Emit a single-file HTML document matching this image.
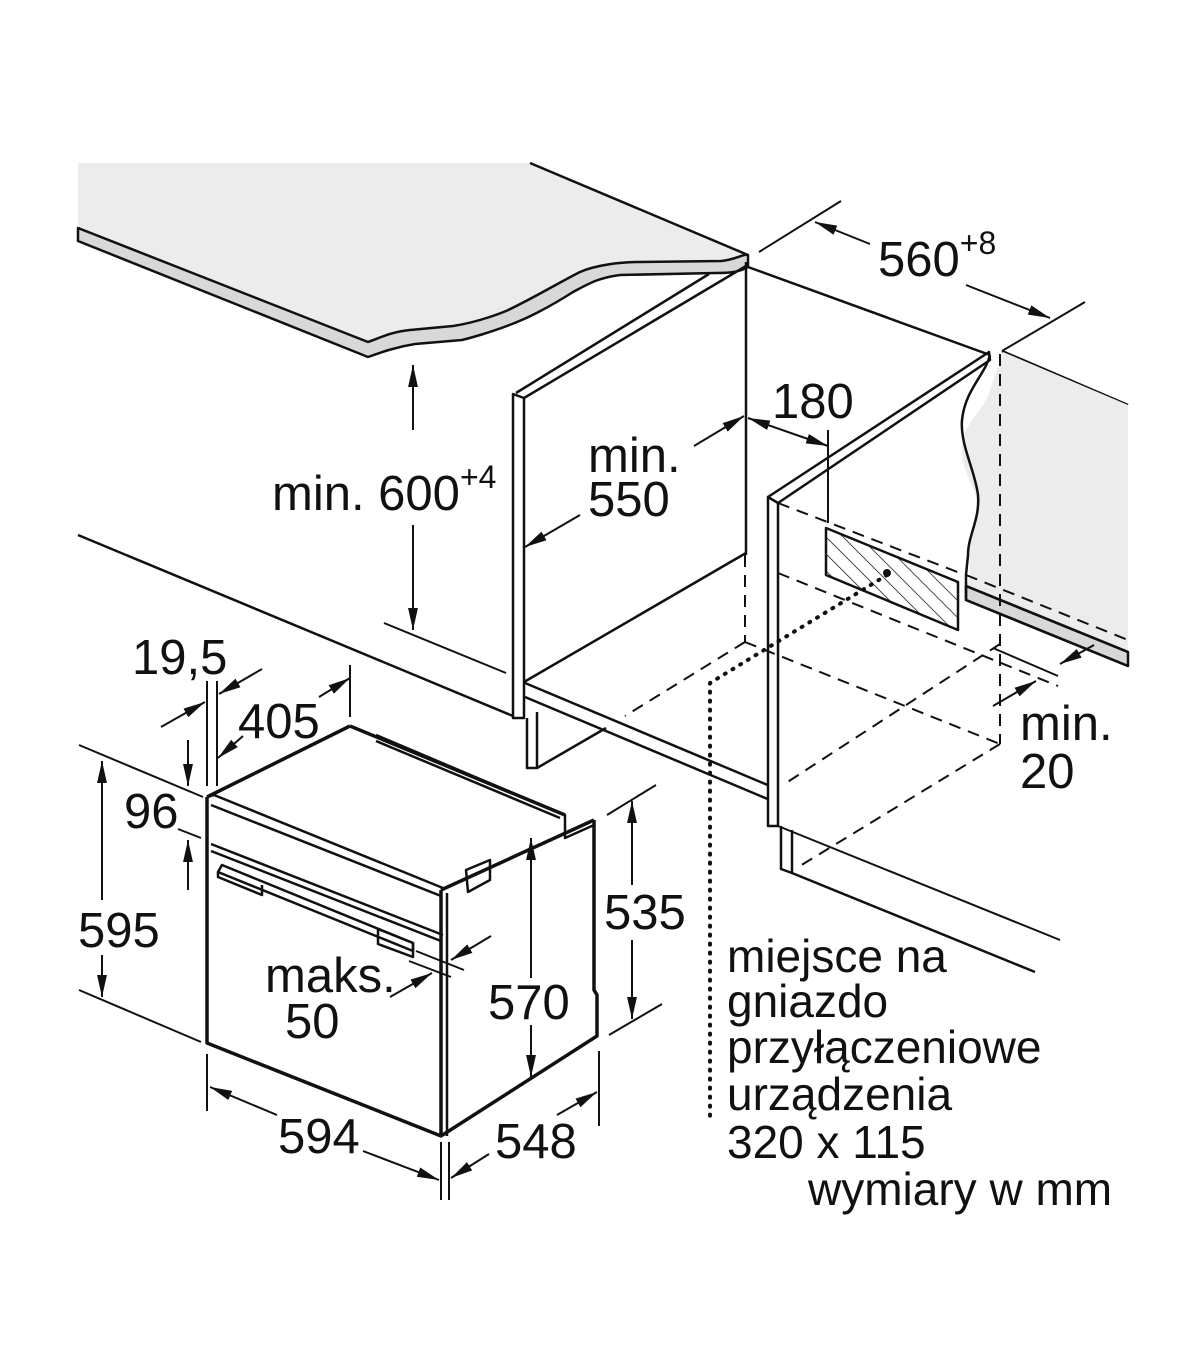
<!DOCTYPE html>
<html><head><meta charset="utf-8"><style>
html,body{margin:0;padding:0;background:#fff;}
svg{display:block;}
text{font-family:"Liberation Sans",Arial,sans-serif;fill:#111;}
</style></head><body>
<svg width="1200" height="1372" viewBox="0 0 1200 1372" xmlns="http://www.w3.org/2000/svg">
<defs>
<marker id="b" viewBox="0 0 20 10" refX="20" refY="5" markerWidth="22" markerHeight="11" orient="auto-start-reverse" markerUnits="userSpaceOnUse"><path d="M0,0.5 L20,5 L0,9.5 z" fill="#111"/></marker>
<pattern id="h" width="12" height="12" patternUnits="userSpaceOnUse" patternTransform="rotate(-45)"><line x1="0" y1="0" x2="0" y2="12" stroke="#111" stroke-width="1.5"/></pattern>
</defs>
<g stroke="#111" stroke-width="2.5" fill="none" stroke-linejoin="round">
<path d="M78,163 L530,163 L748,255 L745,253 C735,262 721,261 721,261 L620,262 C596,265 580,275 560,285 C530,305 506,311 506,311 C480,322 453,326 453,326 L410,330 C390,332 380,338 368,342 L78,228 Z" fill="#ececec" stroke="none"/>
<path d="M78,228 L368,342 C380,338 390,332 410,330 L453,326 C480,322 506,311 506,311 C530,300 560,282 580,272 C596,265 620,262 640,262 L721,261 C735,260 745,253 748,255 L748,267 C740,272 730,273 716,273 L620,275 C598,278 590,283 573,292 C545,310 524,319 524,319 C495,332 462,340 462,340 L415,344 C396,347 382,352 368,357 L78,241 Z" fill="#d8d8d8"/>
<line x1="530" y1="163" x2="748" y2="255"/>
<line x1="746" y1="262" x2="746" y2="555"/>
<line x1="709" y1="274" x2="516" y2="393"/>
<line x1="746" y1="266" x2="524" y2="398"/>
<path d="M513,394 L513,718 L524,718 L524,398 Z" fill="#fff"/>
<line x1="524" y1="682" x2="746" y2="553"/>
<line x1="525" y1="683" x2="770" y2="786"/>
<line x1="525" y1="697" x2="770" y2="800"/>
<path d="M527,718 L527,768 L537,768 L537,712" />
<line x1="537" y1="768" x2="606" y2="728"/>
<line x1="78" y1="535" x2="513" y2="716"/>
<line x1="384" y1="623" x2="506" y2="673" stroke-width="2"/>
<line x1="748" y1="267" x2="990" y2="355"/>
<line x1="1002" y1="351" x2="1128" y2="405"/>
<path d="M1003,352 L1128,405 L1128,652 L966,586 C975,570 966,560 968,545 C970,530 980,520 978,505 C975,485 960,470 962,445 C965,420 985,410 990,390 Z" fill="#ececec" stroke="none"/>
<path d="M966,586 L1128,652 L1128,666 L966,600 Z" fill="#d8d8d8"/>
<path d="M990,355 C985,375 965,390 962,420 C960,445 975,470 978,495 C980,520 968,535 968,555 L966,575 L966,600 L1128,666"/>
<line x1="966" y1="586" x2="1128" y2="652"/>
<path d="M768,497 L989,352 L990,360 L778,503" />
<path d="M768,497 L768,826 L778,826 L778,503 Z" fill="#fff"/>
<path d="M781,826 L781,869 L792,873 L792,830"/>
<line x1="792" y1="873" x2="1035" y2="972"/>
<line x1="778" y1="826" x2="1060" y2="940" stroke-width="2"/>
<path d="M826,528 L958,582 L958,630 L826,575 Z" fill="url(#h)"/>
<circle cx="887" cy="573" r="4" fill="#111" stroke="none"/>
<line x1="828" y1="430" x2="828" y2="523" stroke-width="2"/>
<g stroke-dasharray="12,8" stroke-width="2">
<line x1="745" y1="555" x2="745" y2="642"/>
<line x1="1000" y1="354" x2="1000" y2="744"/>
<line x1="778" y1="503" x2="960" y2="573"/>
<line x1="745" y1="642" x2="625" y2="716"/>
<line x1="745" y1="642" x2="1000" y2="744"/>
<line x1="1000" y1="644" x2="786" y2="783"/>
<line x1="1000" y1="744" x2="795" y2="869"/>
<line x1="778" y1="573" x2="1058" y2="686"/>
<line x1="966" y1="575" x2="1128" y2="640"/>
</g>
<line x1="993" y1="648" x2="1058" y2="676" stroke-width="2"/>
<path d="M887,575 L710,683 L710,1122" stroke-dasharray="1,8" stroke-width="4" stroke-linecap="round"/>
<line x1="759" y1="252" x2="841" y2="201" stroke-width="2"/>
<line x1="1002" y1="351" x2="1085" y2="302" stroke-width="2"/>
<line x1="870" y1="244" x2="815" y2="222" stroke-width="2" marker-end="url(#b)"/>
<line x1="966" y1="285" x2="1050" y2="318" stroke-width="2" marker-end="url(#b)"/>
<line x1="748" y1="418" x2="828" y2="446" stroke-width="2" marker-start="url(#b)" marker-end="url(#b)"/>
<line x1="694" y1="446" x2="744" y2="416" stroke-width="2" marker-end="url(#b)"/>
<line x1="580" y1="515" x2="525" y2="547" stroke-width="2" marker-end="url(#b)"/>
<line x1="413" y1="430" x2="413" y2="365" stroke-width="2" marker-end="url(#b)"/>
<line x1="413" y1="525" x2="413" y2="630" stroke-width="2" marker-end="url(#b)"/>
<line x1="1094" y1="645" x2="1060" y2="664" stroke-width="2" marker-end="url(#b)"/>
<line x1="993" y1="706" x2="1036" y2="681" stroke-width="2" marker-end="url(#b)"/>
<g stroke-width="3.5">
<path d="M207,797 L207,1043 L441,1136 L597,1036 L597,995 L594,990 L594,820"/>
<line x1="207" y1="797" x2="350" y2="726"/>
<line x1="350" y1="726" x2="565" y2="815"/>
<line x1="441" y1="890" x2="441" y2="1136"/>
<line x1="441" y1="890" x2="594" y2="820"/>
</g>
<path d="M207,797 L214,795 L443,888" stroke-width="2.5"/>
<line x1="211" y1="805" x2="441" y2="896"/>
<line x1="211" y1="844" x2="443" y2="935"/>
<line x1="211" y1="851" x2="441" y2="941"/>
<path d="M376,735 L565,815 L565,838 L594,825"/>
<line x1="376" y1="741" x2="560" y2="818"/>
<line x1="447" y1="893" x2="447" y2="1136"/>
<path d="M218,872 L413,951 L413,943 L222,865 Z"/>
<path d="M218,872 L218,877 L262,895 L262,885"/>
<path d="M378,929 L413,943 L413,957 L378,944 Z"/>
<path d="M466,870 L490,860 L490,880 L468,892 Z"/>
<line x1="79" y1="745" x2="203" y2="797" stroke-width="2"/>
<line x1="79" y1="990" x2="201" y2="1042" stroke-width="2"/>
<line x1="102" y1="900" x2="102" y2="761" stroke-width="2" marker-end="url(#b)"/>
<line x1="102" y1="955" x2="102" y2="997" stroke-width="2" marker-end="url(#b)"/>
<line x1="178" y1="829" x2="201" y2="838" stroke-width="2"/>
<line x1="188" y1="740" x2="188" y2="786" stroke-width="2" marker-end="url(#b)"/>
<line x1="188" y1="890" x2="188" y2="840" stroke-width="2" marker-end="url(#b)"/>
<line x1="207" y1="681" x2="207" y2="786" stroke-width="2"/>
<line x1="217" y1="681" x2="217" y2="786" stroke-width="2"/>
<line x1="161" y1="727" x2="205" y2="702" stroke-width="2" marker-end="url(#b)"/>
<line x1="262" y1="669" x2="219" y2="694" stroke-width="2" marker-end="url(#b)"/>
<line x1="350" y1="665" x2="350" y2="717" stroke-width="2"/>
<line x1="319" y1="697" x2="350" y2="678" stroke-width="2" marker-end="url(#b)"/>
<line x1="243" y1="736" x2="218" y2="758" stroke-width="2" marker-end="url(#b)"/>
<line x1="416" y1="951" x2="464" y2="970" stroke-width="2"/>
<line x1="409" y1="961" x2="451" y2="977" stroke-width="2"/>
<line x1="491" y1="936" x2="451" y2="960" stroke-width="2" marker-end="url(#b)"/>
<line x1="390" y1="997" x2="432" y2="973" stroke-width="2" marker-end="url(#b)"/>
<line x1="531" y1="978" x2="531" y2="838" stroke-width="2" marker-end="url(#b)"/>
<line x1="531" y1="1025" x2="531" y2="1077" stroke-width="2" marker-end="url(#b)"/>
<line x1="607" y1="815" x2="656" y2="785" stroke-width="2"/>
<line x1="609" y1="1035" x2="662" y2="1004" stroke-width="2"/>
<line x1="632" y1="885" x2="632" y2="801" stroke-width="2" marker-end="url(#b)"/>
<line x1="632" y1="940" x2="632" y2="1019" stroke-width="2" marker-end="url(#b)"/>
<line x1="207" y1="1054" x2="207" y2="1111" stroke-width="2"/>
<line x1="441" y1="1142" x2="441" y2="1200" stroke-width="2"/>
<line x1="449" y1="1142" x2="449" y2="1200" stroke-width="2"/>
<line x1="599" y1="1051" x2="599" y2="1126" stroke-width="2"/>
<line x1="277" y1="1115" x2="210" y2="1087" stroke-width="2" marker-end="url(#b)"/>
<line x1="363" y1="1151" x2="439" y2="1180" stroke-width="2" marker-end="url(#b)"/>
<line x1="489" y1="1154" x2="451" y2="1178" stroke-width="2" marker-end="url(#b)"/>
<line x1="557" y1="1115" x2="597" y2="1092" stroke-width="2" marker-end="url(#b)"/>
</g>
<g font-size="49">
<text x="272" y="510">min. 600<tspan font-size="32" dy="-22">+4</tspan></text>
<text x="588" y="472">min.</text>
<text x="588" y="516">550</text>
<text x="772" y="418">180</text>
<text x="878" y="276">560<tspan font-size="32" dy="-22">+8</tspan></text>
<text x="1020" y="740">min.</text>
<text x="1020" y="788">20</text>
<text x="132" y="674">19,5</text>
<text x="238" y="738">405</text>
<text x="124" y="828">96</text>
<text x="78" y="947">595</text>
<text x="265" y="992">maks.</text>
<text x="285" y="1038">50</text>
<text x="488" y="1019">570</text>
<text x="604" y="929">535</text>
<text x="278" y="1153">594</text>
<text x="495" y="1158">548</text>
</g>
<g font-size="46">
<text x="727" y="972">miejsce na</text>
<text x="727" y="1017">gniazdo</text>
<text x="727" y="1063">przyłączeniowe</text>
<text x="727" y="1110">urządzenia</text>
<text x="727" y="1158">320 x 115</text>
<text x="808" y="1205">wymiary w mm</text>
</g>
</svg>
</body></html>
